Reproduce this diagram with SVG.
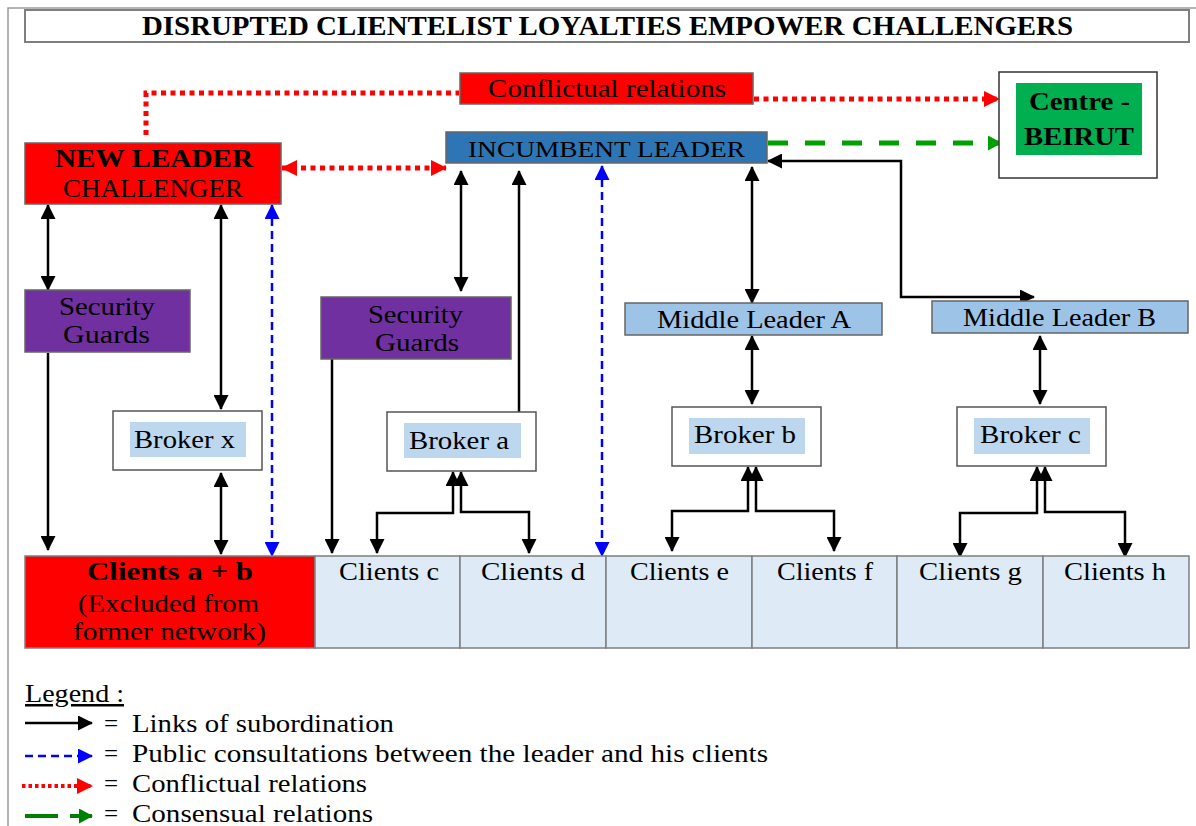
<svg xmlns="http://www.w3.org/2000/svg" width="1196" height="826" viewBox="0 0 1196 826">
  <style>
    text { font-family: "Liberation Serif", "Times New Roman", serif; fill: #000; }
    .t24 { font-size: 25px; }
    .t25 { font-size: 26px; }
    .b { font-weight: bold; }
    .box { stroke: #666; stroke-width: 1.5; }
    .cell { fill: #DEEAF6; stroke: #7F7F7F; stroke-width: 1.5; }
    .sub { fill: none; stroke: #000; stroke-width: 2.5; }
    .con { fill: none; stroke: #FF0000; stroke-width: 5; stroke-dasharray: 5 4.5; }
    .pub { fill: none; stroke: #0000FF; stroke-width: 2.5; stroke-dasharray: 8 5; }
    .cns { fill: none; stroke: #00A000; stroke-width: 5; stroke-dasharray: 20 17; }
  </style>
  <defs>
    <marker id="ah-black" viewBox="0 0 15 15" refX="14" refY="7.5" markerWidth="15" markerHeight="15" markerUnits="userSpaceOnUse" orient="auto-start-reverse">
      <path d="M0,0 L15,7.5 L0,15 z" fill="#000"/>
    </marker>
    <marker id="ah-red" viewBox="0 0 16 16" refX="15" refY="8" markerWidth="16" markerHeight="16" markerUnits="userSpaceOnUse" orient="auto-start-reverse">
      <path d="M0,0 L16,8 L0,16 z" fill="#FF0000"/>
    </marker>
    <marker id="ah-blue" viewBox="0 0 15 15" refX="14" refY="7.5" markerWidth="15" markerHeight="15" markerUnits="userSpaceOnUse" orient="auto-start-reverse">
      <path d="M0,0 L15,7.5 L0,15 z" fill="#0000FF"/>
    </marker>
    <marker id="ah-green" viewBox="0 0 14 15" refX="13" refY="7.5" markerWidth="14" markerHeight="15" markerUnits="userSpaceOnUse" orient="auto-start-reverse">
      <path d="M0,0 L14,7.5 L0,15 z" fill="#00A000"/>
    </marker>
    <marker id="ah-green-dark" viewBox="0 0 14 15" refX="13" refY="7.5" markerWidth="14" markerHeight="15" markerUnits="userSpaceOnUse" orient="auto-start-reverse">
      <path d="M0,0 L14,7.5 L0,15 z" fill="#008000"/>
    </marker>
  </defs>

  <rect width="1196" height="826" fill="#fff"/>
  <!-- page frame -->
  <path d="M8,826 V8 H1196" fill="none" stroke="#9A9A9A" stroke-width="1.5"/>

  <!-- title -->
  <g id="title">
    <rect x="25" y="10" width="1164" height="32" fill="#fff" stroke="#7F7F7F" stroke-width="2"/>
    <text class="b" x="142" y="35" font-size="28" textLength="931" lengthAdjust="spacingAndGlyphs">DISRUPTED CLIENTELIST LOYALTIES EMPOWER CHALLENGERS</text>
  </g>

  <!-- connectors -->
  <g id="connectors">
    <!-- conflictual relations -->
    <path class="con" d="M146,135 V93 H459"/>
    <path class="con" d="M754,99 H999" marker-end="url(#ah-red)"/>
    <path class="con" d="M282,168 H446" marker-start="url(#ah-red)" marker-end="url(#ah-red)"/>
    <!-- consensual relation -->
    <path class="cns" d="M768,143 H1001" marker-end="url(#ah-green)"/>
    <!-- public consultations -->
    <path class="pub" d="M272,205 V556" marker-start="url(#ah-blue)" marker-end="url(#ah-blue)"/>
    <path class="pub" d="M602,166 V556" marker-start="url(#ah-blue)" marker-end="url(#ah-blue)"/>
    <!-- links of subordination: new leader side -->
    <path class="sub" d="M48,205 V290" marker-start="url(#ah-black)" marker-end="url(#ah-black)"/>
    <path class="sub" d="M221,205 V409" marker-start="url(#ah-black)" marker-end="url(#ah-black)"/>
    <path class="sub" d="M221,473 V554" marker-start="url(#ah-black)" marker-end="url(#ah-black)"/>
    <path class="sub" d="M48,353 V550" marker-end="url(#ah-black)"/>
    <!-- incumbent side -->
    <path class="sub" d="M461,171 V291" marker-start="url(#ah-black)" marker-end="url(#ah-black)"/>
    <path class="sub" d="M519,412 V171" marker-end="url(#ah-black)"/>
    <path class="sub" d="M332,359 V553" marker-end="url(#ah-black)"/>
    <path class="sub" d="M752,167 V303" marker-start="url(#ah-black)" marker-end="url(#ah-black)"/>
    <path class="sub" d="M768,161 H901 V297 H1034" marker-start="url(#ah-black)" marker-end="url(#ah-black)"/>
    <path class="sub" d="M752,336 V404" marker-start="url(#ah-black)" marker-end="url(#ah-black)"/>
    <path class="sub" d="M1040,336 V404" marker-start="url(#ah-black)" marker-end="url(#ah-black)"/>
    <!-- brokers to clients -->
    <path class="sub" d="M453,472 V513 H377 V553" marker-start="url(#ah-black)" marker-end="url(#ah-black)"/>
    <path class="sub" d="M461,472 V512 H529 V553" marker-start="url(#ah-black)" marker-end="url(#ah-black)"/>
    <path class="sub" d="M748,467 V511 H672 V551" marker-start="url(#ah-black)" marker-end="url(#ah-black)"/>
    <path class="sub" d="M756,467 V511 H834 V551" marker-start="url(#ah-black)" marker-end="url(#ah-black)"/>
    <path class="sub" d="M1037,467 V513 H960 V557" marker-start="url(#ah-black)" marker-end="url(#ah-black)"/>
    <path class="sub" d="M1045,467 V512 H1125 V557" marker-start="url(#ah-black)" marker-end="url(#ah-black)"/>
  </g>

  <!-- nodes -->
  <g id="conflictual-label">
    <rect class="box" x="460" y="73" width="293" height="31" fill="#FF0000"/>
    <text class="t25" x="488" y="97" textLength="238" lengthAdjust="spacingAndGlyphs">Conflictual relations</text>
  </g>

  <g id="incumbent-leader">
    <rect class="box" x="446" y="132" width="321" height="31" fill="#2E75B6"/>
    <text x="468" y="157" font-size="23" textLength="277" lengthAdjust="spacingAndGlyphs">INCUMBENT LEADER</text>
  </g>

  <g id="new-leader">
    <rect class="box" x="25" y="143" width="256" height="61" fill="#FF0000"/>
    <text class="b" x="55" y="167" font-size="26" textLength="198" lengthAdjust="spacingAndGlyphs">NEW LEADER</text>
    <text class="t24" x="63" y="197" textLength="180" lengthAdjust="spacingAndGlyphs">CHALLENGER</text>
  </g>

  <g id="centre-beirut">
    <rect x="999" y="72" width="158" height="106" fill="#fff" stroke="#333" stroke-width="1.5"/>
    <rect x="1016" y="83" width="126" height="72" fill="#00B050"/>
    <text class="t25 b" x="1029" y="110" textLength="101" lengthAdjust="spacingAndGlyphs">Centre -</text>
    <text class="t25 b" x="1024" y="145" textLength="110" lengthAdjust="spacingAndGlyphs">BEIRUT</text>
  </g>

  <g id="security-guards-1">
    <rect class="box" x="25" y="290" width="165" height="62" fill="#7030A0"/>
    <text class="t24" x="59" y="315" textLength="96" lengthAdjust="spacingAndGlyphs">Security</text>
    <text class="t24" x="63" y="343" textLength="87" lengthAdjust="spacingAndGlyphs">Guards</text>
  </g>

  <g id="security-guards-2">
    <rect class="box" x="321" y="297" width="190" height="62" fill="#7030A0"/>
    <text class="t24" x="368" y="323" textLength="95" lengthAdjust="spacingAndGlyphs">Security</text>
    <text class="t24" x="375" y="351" textLength="84" lengthAdjust="spacingAndGlyphs">Guards</text>
  </g>

  <g id="middle-leader-a">
    <rect class="box" x="625" y="303" width="257" height="32" fill="#9DC3E6"/>
    <text class="t24" x="657" y="328" textLength="194" lengthAdjust="spacingAndGlyphs">Middle Leader A</text>
  </g>

  <g id="middle-leader-b">
    <rect class="box" x="932" y="301" width="256" height="32" fill="#9DC3E6"/>
    <text class="t24" x="963" y="326" textLength="193" lengthAdjust="spacingAndGlyphs">Middle Leader B</text>
  </g>

  <g id="broker-x">
    <rect x="113" y="411" width="149" height="59" fill="#fff" stroke="#555" stroke-width="1.5"/>
    <rect x="130" y="422" width="116" height="35" fill="#BDD7EE"/>
    <text class="t25" x="134" y="448" textLength="101" lengthAdjust="spacingAndGlyphs">Broker x</text>
  </g>

  <g id="broker-a">
    <rect x="387" y="412" width="149" height="59" fill="#fff" stroke="#555" stroke-width="1.5"/>
    <rect x="404" y="423" width="117" height="35" fill="#BDD7EE"/>
    <text class="t25" x="409" y="449" textLength="100" lengthAdjust="spacingAndGlyphs">Broker a</text>
  </g>

  <g id="broker-b">
    <rect x="672" y="407" width="149" height="59" fill="#fff" stroke="#555" stroke-width="1.5"/>
    <rect x="689" y="418" width="116" height="36" fill="#BDD7EE"/>
    <text class="t25" x="694" y="443" textLength="102" lengthAdjust="spacingAndGlyphs">Broker b</text>
  </g>

  <g id="broker-c">
    <rect x="957" y="407" width="149" height="59" fill="#fff" stroke="#555" stroke-width="1.5"/>
    <rect x="974" y="418" width="116" height="36" fill="#BDD7EE"/>
    <text class="t25" x="980" y="443" textLength="101" lengthAdjust="spacingAndGlyphs">Broker c</text>
  </g>

  <g id="clients-ab">
    <rect x="25" y="556" width="290" height="92" fill="#FF0000" stroke="#7F7F7F" stroke-width="1.5"/>
    <text class="t24 b" x="87" y="580" textLength="166" lengthAdjust="spacingAndGlyphs">Clients a + b</text>
    <text class="t24" x="78" y="612" textLength="181" lengthAdjust="spacingAndGlyphs">(Excluded from</text>
    <text class="t24" x="73" y="640" textLength="193" lengthAdjust="spacingAndGlyphs">former network)</text>
  </g>
  <g id="clients-c">
    <rect class="cell" x="315" y="556" width="145" height="92"/>
    <text class="t24" x="339" y="580" textLength="100" lengthAdjust="spacingAndGlyphs">Clients c</text>
  </g>
  <g id="clients-d">
    <rect class="cell" x="460" y="556" width="146" height="92"/>
    <text class="t24" x="481" y="580" textLength="104" lengthAdjust="spacingAndGlyphs">Clients d</text>
  </g>
  <g id="clients-e">
    <rect class="cell" x="606" y="556" width="146" height="92"/>
    <text class="t24" x="630" y="580" textLength="99" lengthAdjust="spacingAndGlyphs">Clients e</text>
  </g>
  <g id="clients-f">
    <rect class="cell" x="752" y="556" width="145" height="92"/>
    <text class="t24" x="777" y="580" textLength="96" lengthAdjust="spacingAndGlyphs">Clients f</text>
  </g>
  <g id="clients-g">
    <rect class="cell" x="897" y="556" width="146" height="92"/>
    <text class="t24" x="919" y="580" textLength="103" lengthAdjust="spacingAndGlyphs">Clients g</text>
  </g>
  <g id="clients-h">
    <rect class="cell" x="1043" y="556" width="146" height="92"/>
    <text class="t24" x="1064" y="580" textLength="102" lengthAdjust="spacingAndGlyphs">Clients h</text>
  </g>

  <!-- legend -->
  <g id="legend">
    <text class="t24" x="25" y="702" textLength="99" lengthAdjust="spacingAndGlyphs" text-decoration="underline">Legend :</text>
    <path class="sub" d="M25,723 H92" marker-end="url(#ah-black)"/>
    <path d="M25,756 H92" fill="none" stroke="#0000FF" stroke-width="2.5" stroke-dasharray="8 5" marker-end="url(#ah-blue)"/>
    <path d="M22,786 H92" fill="none" stroke="#FF0000" stroke-width="4" stroke-dasharray="3.5 3" marker-end="url(#ah-red)"/>
    <path d="M25,816 H92" fill="none" stroke="#008000" stroke-width="4" stroke-dasharray="33 12" marker-end="url(#ah-green-dark)"/>
    <text class="t24" x="104" y="732">=</text>
    <text class="t24" x="104" y="762">=</text>
    <text class="t24" x="104" y="792">=</text>
    <text class="t24" x="104" y="822">=</text>
    <text class="t24" x="132" y="732" textLength="262" lengthAdjust="spacingAndGlyphs">Links of subordination</text>
    <text class="t24" x="132" y="762" textLength="636" lengthAdjust="spacingAndGlyphs">Public consultations between the leader and his clients</text>
    <text class="t24" x="132" y="792" textLength="235" lengthAdjust="spacingAndGlyphs">Conflictual relations</text>
    <text class="t24" x="132" y="822" textLength="241" lengthAdjust="spacingAndGlyphs">Consensual relations</text>
  </g>
</svg>
